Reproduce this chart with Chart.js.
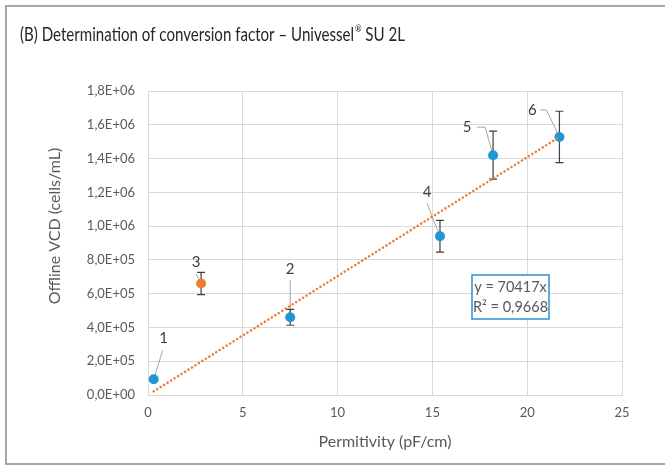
<!DOCTYPE html>
<html>
<head>
<meta charset="utf-8">
<script src="https://cdn.jsdelivr.net/npm/chart.js@4.4.1/dist/chart.umd.min.js"></script>
<style>
  html, body { margin: 0; padding: 0; background: #fff; }
</style>
</head>
<body>
<canvas id="chart" width="665" height="468"></canvas>
<script>
// sample numbers shown next to the points
let pointLabels = ['1', '2', '3', '4', '5', '6'];
// permittivity (pF/cm)
let permittivity = [0.3, 7.5, 2.8, 15.4, 18.2, 21.7];
// offline VCD (cells/mL)
let offlineVcd = [93000, 460000, 660000, 940000, 1420000, 1528000];
// error bar half length (cells/mL)
let vcdError = [9000, 47000, 66000, 94000, 142000, 152000];
// point 3 is left out of the fit (orange)
let excluded = [false, false, true, false, false, false];

let trendSlope = 70417;
let trendR2 = 0.9668;

let xRange = [0, 25];
let yRange = [0, 1800000];

// where each number label sits, relative to its point (px)
let labelLayout = [
    { dx: 10, dy: -41, leader: [[9, -29]] },
    { dx: 0, dy: -48, leader: [[0, -37]] },
    { dx: -5, dy: -21, leader: [[-5, -10]] },
    { dx: -13, dy: -44, leader: [[-13, -33]] },
    { dx: -26, dy: -28, leader: [[-16, -28], [-8, -28]] },
    { dx: -27, dy: -27, leader: [[-19, -27], [-13, -27]] }
];

const blue = '#1f97d4';
const orange = '#ed7d31';
const grey = '#595959';
const gridColor = '#d9d9d9';

function formatSci(value) {
    if (value === 0) return '0,0E+00';
    let exp = Math.floor(Math.log10(value) + 1e-9);
    let mant = (value / Math.pow(10, exp)).toFixed(1).replace('.', ',');
    return mant + 'E+' + String(exp).padStart(2, '0');
}

let points = permittivity.map((x, i) => ({ x: x, y: offlineVcd[i] }));
let xMin = Math.min(...permittivity);
let xMax = Math.max(...permittivity);
let trendPoints = [
    { x: xMin, y: trendSlope * xMin },
    { x: xMax, y: trendSlope * xMax }
];

let framePlugin = {
    id: 'frame',
    beforeDraw: function(chart) {
        let ctx = chart.ctx;
        ctx.save();
        ctx.fillStyle = '#fff';
        ctx.fillRect(0, 0, chart.width, chart.height);
        ctx.strokeStyle = '#a6a6a6';
        ctx.lineWidth = 2;
        ctx.strokeRect(6, 6, 700, 458);

        // title with superscript ®, squeezed to the condensed width of the original
        let part1 = '(B) Determination of conversion factor \u2013 Univessel';
        let part2 = ' SU 2L';
        let bigFont = '19px Lato, sans-serif';
        let smallFont = '10px Lato, sans-serif';
        ctx.font = bigFont;
        let w1 = ctx.measureText(part1).width;
        let w3 = ctx.measureText(part2).width;
        ctx.font = smallFont;
        let w2 = ctx.measureText('\u00ae').width + 1;
        let squeeze = 385 / (w1 + w2 + w3);

        ctx.save();
        ctx.translate(20, 41);
        ctx.scale(squeeze, 1);
        ctx.fillStyle = '#262626';
        ctx.textBaseline = 'alphabetic';
        ctx.textAlign = 'left';
        ctx.font = bigFont;
        ctx.fillText(part1, 0, 0);
        ctx.font = smallFont;
        ctx.fillText('\u00ae', w1 + 1, -9);
        ctx.font = bigFont;
        ctx.fillText(part2, w1 + w2, 0);
        ctx.restore();

        // y axis title
        ctx.translate(55, 226);
        ctx.rotate(-Math.PI / 2);
        ctx.textAlign = 'center';
        ctx.textBaseline = 'middle';
        ctx.fillStyle = grey;
        ctx.font = '16px Lato, sans-serif';
        ctx.fillText('Offline VCD (cells/mL)', 0, 0);
        ctx.restore();
    },
    beforeDatasetsDraw: function(chart) {
        let ctx = chart.ctx;
        let xs = chart.scales.x;
        let ys = chart.scales.y;
        ctx.save();

        // leader lines, under the markers
        ctx.strokeStyle = '#a6a6a6';
        ctx.lineWidth = 1;
        for (let i = 0; i < points.length; i++) {
            let px = xs.getPixelForValue(permittivity[i]);
            let py = ys.getPixelForValue(offlineVcd[i]);
            let path = labelLayout[i].leader;
            ctx.beginPath();
            ctx.moveTo(px + path[0][0], py + path[0][1]);
            for (let k = 1; k < path.length; k++) {
                ctx.lineTo(px + path[k][0], py + path[k][1]);
            }
            ctx.lineTo(px, py);
            ctx.stroke();
        }

        // error bars
        ctx.strokeStyle = '#404040';
        ctx.lineWidth = 1.2;
        for (let i = 0; i < points.length; i++) {
            let px = xs.getPixelForValue(permittivity[i]);
            let top = ys.getPixelForValue(offlineVcd[i] + vcdError[i]);
            let bottom = ys.getPixelForValue(offlineVcd[i] - vcdError[i]);
            ctx.beginPath();
            ctx.moveTo(px, top);
            ctx.lineTo(px, bottom);
            ctx.moveTo(px - 4, top);
            ctx.lineTo(px + 4, top);
            ctx.moveTo(px - 4, bottom);
            ctx.lineTo(px + 4, bottom);
            ctx.stroke();
        }
        ctx.restore();
    },
    afterDatasetsDraw: function(chart) {
        let ctx = chart.ctx;
        let xs = chart.scales.x;
        let ys = chart.scales.y;
        let area = chart.chartArea;
        ctx.save();

        // point numbers
        ctx.fillStyle = '#404040';
        ctx.font = '15px Lato, sans-serif';
        ctx.textAlign = 'center';
        ctx.textBaseline = 'middle';
        for (let i = 0; i < points.length; i++) {
            let px = xs.getPixelForValue(permittivity[i]);
            let py = ys.getPixelForValue(offlineVcd[i]);
            ctx.fillText(pointLabels[i], px + labelLayout[i].dx, py + labelLayout[i].dy);
        }

        // trendline equation box
        let bx = area.left + 324;
        let by = area.top + 184;
        ctx.fillStyle = '#fff';
        ctx.fillRect(bx, by, 77, 44);
        ctx.strokeStyle = '#2e8fd0';
        ctx.lineWidth = 1.5;
        ctx.strokeRect(bx, by, 77, 44);
        ctx.fillStyle = grey;
        ctx.font = '14.5px Lato, sans-serif';
        ctx.fillText('y = ' + trendSlope + 'x', bx + 38.5, by + 12.5);
        ctx.fillText('R\u00b2 = ' + trendR2.toFixed(4).replace('.', ','), bx + 38.5, by + 32.5);
        ctx.restore();
    }
};

let config = {
    data: {
        datasets: [
            {
                type: 'line',
                label: 'Linear fit',
                data: trendPoints,
                borderColor: orange,
                borderWidth: 2.5,
                borderDash: [0.1, 4],
                borderCapStyle: 'round',
                pointRadius: 0,
                fill: false
            },
            {
                type: 'scatter',
                label: 'Offline VCD',
                data: points,
                pointRadius: 5,
                pointBorderWidth: 0,
                pointBackgroundColor: excluded.map(e => e ? orange : blue),
                pointBorderColor: excluded.map(e => e ? orange : blue)
            }
        ]
    },
    options: {
        responsive: false,
        animation: false,
        layout: { padding: { top: 91, right: 43, bottom: 0, left: 0 } },
        plugins: {
            legend: { display: false },
            tooltip: { enabled: false }
        },
        scales: {
            x: {
                type: 'linear',
                position: 'bottom',
                min: xRange[0],
                max: xRange[1],
                ticks: {
                    stepSize: 5,
                    padding: 10,
                    color: grey,
                    font: { family: 'Lato', size: 13 }
                },
                grid: { color: gridColor, drawTicks: false },
                border: { color: gridColor },
                title: {
                    display: true,
                    text: 'Permitivity (pF/cm)',
                    color: grey,
                    font: { family: 'Lato', size: 16 },
                    padding: { top: 0, bottom: 17 }
                },
                afterFit: function(scale) { scale.height = 73; }
            },
            y: {
                type: 'linear',
                min: yRange[0],
                max: yRange[1],
                ticks: {
                    stepSize: 200000,
                    padding: 13,
                    color: grey,
                    font: { family: 'Lato', size: 13 },
                    callback: formatSci
                },
                grid: { color: gridColor, drawTicks: false },
                border: { color: gridColor },
                afterFit: function(scale) { scale.width = 148; }
            }
        }
    },
    plugins: [framePlugin]
};

let myChart = new Chart(document.getElementById('chart'), config);
</script>
</body>
</html>
